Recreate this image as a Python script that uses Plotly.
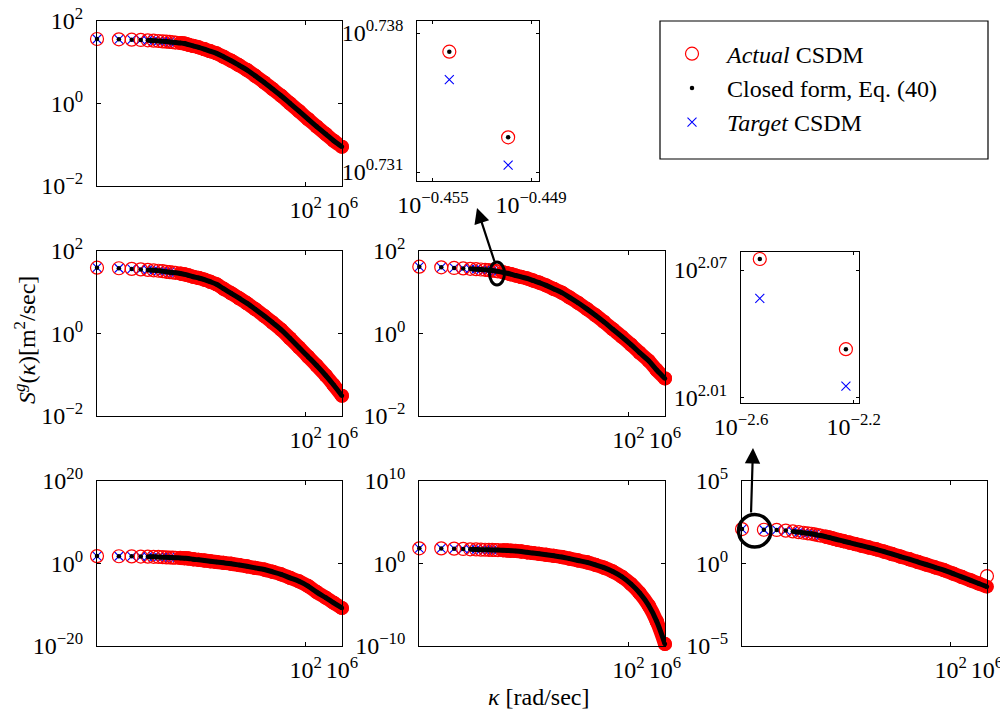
import numpy as np
import plotly.graph_objects as go

# page body has an 8px default margin: the figure is shifted by OFF and made smaller
OFF = 8
W, H = 1008 - OFF, 715 - OFF

# ---------------- data ----------------
# wavenumber sample index k (kappa = k * dkappa)
k_index = [1, 2, 3, 4, 5, 6, 7, 8, 9, 10, 11, 12, 14, 16, 18, 21, 25, 30, 36, 44, 55,
           70, 90, 115, 150, 200, 260, 340, 450, 600, 800, 1050, 1400, 1800, 2340]
dkappa = 10 ** -0.87

# log10 of the spectra, one list per panel (closed form / target identical on this scale)
logS_A = [1.557, 1.549, 1.541, 1.534, 1.525, 1.516, 1.509, 1.50, 1.494, 1.486, 1.478, 1.471,
          1.46, 1.447, 1.42, 1.39, 1.355, 1.31, 1.262, 1.21, 1.126, 1.032, 0.92, 0.81, 0.665,
          0.505, 0.346, 0.185, 0.0, -0.188, -0.382, -0.561, -0.744, -0.905, -1.05]
logS_B = [1.589, 1.575, 1.56, 1.548, 1.535, 1.525, 1.515, 1.505, 1.49, 1.48, 1.472, 1.465,
          1.447, 1.428, 1.405, 1.37, 1.34, 1.30, 1.25, 1.187, 1.08, 0.97, 0.85, 0.73, 0.585,
          0.42, 0.26, 0.09, -0.12, -0.34, -0.565, -0.78, -1.02, -1.25, -1.51]
logS_C = [1.613, 1.597, 1.582, 1.571, 1.562, 1.552, 1.545, 1.538, 1.53, 1.52, 1.51, 1.50,
          1.478, 1.455, 1.433, 1.40, 1.365, 1.33, 1.28, 1.228, 1.16, 1.075, 0.985, 0.87, 0.74,
          0.587, 0.44, 0.279, 0.10, -0.082, -0.273, -0.468, -0.665, -0.887, -1.09]
logS_D = [1.75, 1.72, 1.69, 1.65, 1.62, 1.59, 1.55, 1.50, 1.45, 1.42, 1.39, 1.36, 1.31, 1.25,
          1.19, 1.0, 0.85, 0.69, 0.51, 0.33, 0.12, -0.1, -0.4, -0.72, -1.1, -1.5, -2.05, -2.66,
          -3.5, -4.35, -5.5, -6.95, -8.3, -9.55, -10.8]
logS_E = [1.82, 1.81, 1.78, 1.74, 1.70, 1.68, 1.66, 1.645, 1.635, 1.62, 1.615, 1.605, 1.585,
          1.56, 1.535, 1.50, 1.44, 1.335, 1.25, 1.15, 1.04, 0.91, 0.77, 0.57, 0.35, 0.12,
          -0.18, -0.52, -0.98, -1.62, -2.5, -3.58, -5.1, -7.0, -9.75]
logS_F = [2.075, 2.033, 2.02, 1.98, 1.93, 1.89, 1.85, 1.815, 1.79, 1.75, 1.71, 1.68, 1.62,
          1.56, 1.50, 1.42, 1.34, 1.255, 1.165, 1.07, 0.965, 0.85, 0.71, 0.57, 0.41, 0.25,
          0.09, -0.07, -0.24, -0.41, -0.62, -0.82, -1.03, -1.22, -1.41]
logS_F_actual = [2.075, 2.033, 2.02, 1.98, 1.93, 1.89, 1.85, 1.815, 1.79, 1.75, 1.71, 1.68,
                 1.62, 1.56, 1.50, 1.42, 1.34, 1.255, 1.165, 1.07, 0.965, 0.85, 0.71, 0.57,
                 0.41, 0.25, 0.09, -0.07, -0.24, -0.41, -0.62, -0.82, -1.03, -1.22, -0.77]

# zoom insets (log10 values)
inset1_logk = [-0.4540, -0.4504]
inset1_actual = [0.73706, 0.73275]
inset1_closed = [0.73706, 0.73275]
inset1_target = [0.73565, 0.73135]
inset2_logk = [-2.5335, -2.2275]
inset2_actual = [2.0752, 2.0327]
inset2_closed = [2.0752, 2.0327]
inset2_target = [2.0566, 2.0153]

x_tick_labels = ["10<sup>2</sup>", "10<sup>6</sup>"]
legend_names = ["<i>Actual</i> CSDM", "Closed form, Eq. (40)", "<i>Target</i> CSDM"]

# ---------------- figure ----------------
FONT = "Liberation Serif"
FS = 24

kappa = np.array(k_index, dtype=float) * dkappa
BAND_START = 12   # index where the markers merge into a solid band
LINE_START = 4


def px(x):
    return (x - OFF) / W


def py(y):
    return 1 - (y - OFF) / H


def pw(e):
    s = f"{e:g}".replace("-", "\u2212")
    return f"10<sup>{s}</sup>"


fig = go.Figure()

panels = [
    dict(s=logS_A, a=logS_A, dx=(97, 342), dy=(20.7, 186), yr=(-2, 2)),
    dict(s=logS_B, a=logS_B, dx=(97, 342), dy=(250.7, 416), yr=(-2, 2)),
    dict(s=logS_C, a=logS_C, dx=(419.3, 665), dy=(250.7, 416), yr=(-2, 2)),
    dict(s=logS_D, a=logS_D, dx=(97, 342), dy=(480.7, 646), yr=(-20, 20)),
    dict(s=logS_E, a=logS_E, dx=(419.3, 665), dy=(480.7, 646), yr=(-10, 10)),
    dict(s=logS_F, a=logS_F_actual, dx=(742, 987), dy=(480.7, 646), yr=(-5, 5)),
]

axis_common = dict(
    showline=True, linecolor="black", linewidth=1.2, mirror="ticks",
    ticks="inside", ticklen=4, tickcolor="black", tickwidth=1,
    showgrid=False, zeroline=False, tickangle=0, automargin=False,
    tickfont=dict(family=FONT, size=FS, color="black"),
)

xr = (np.log10(kappa[0]), np.log10(kappa[-1]) + 0.0005)

for i, p in enumerate(panels, start=1):
    xa = "x" if i == 1 else f"x{i}"
    ya = "y" if i == 1 else f"y{i}"
    S = 10 ** np.array(p["s"])
    A = 10 ** np.array(p["a"])
    first = i == 1
    # target (blue x) at bottom
    fig.add_trace(go.Scatter(x=kappa, y=S, mode="markers", xaxis=xa, yaxis=ya,
                             marker=dict(symbol="x-thin", size=9, color="blue",
                                         line=dict(color="blue", width=1.1)),
                             name=legend_names[2], showlegend=first, legendrank=3,
                             cliponaxis=False))
    # red band of overlapping circles
    fig.add_trace(go.Scatter(x=kappa[BAND_START:], y=S[BAND_START:], mode="lines+markers",
                             xaxis=xa, yaxis=ya,
                             line=dict(color="red", width=14, shape="spline"),
                             marker=dict(color="red", size=14),
                             showlegend=False, hoverinfo="skip", cliponaxis=False))
    fig.add_trace(go.Scatter(x=kappa, y=A, mode="markers", xaxis=xa, yaxis=ya,
                             marker=dict(symbol="circle-open", size=13, color="red",
                                         line=dict(width=1.2)),
                             name=legend_names[0], showlegend=first, legendrank=1,
                             cliponaxis=False))
    # closed form: black
    fig.add_trace(go.Scatter(x=kappa[LINE_START:], y=S[LINE_START:], mode="lines",
                             xaxis=xa, yaxis=ya,
                             line=dict(color="black", width=5, shape="spline"),
                             showlegend=False, hoverinfo="skip", cliponaxis=False))
    fig.add_trace(go.Scatter(x=kappa, y=S, mode="markers", xaxis=xa, yaxis=ya,
                             marker=dict(symbol="circle", size=4.5, color="black"),
                             name=legend_names[1], showlegend=first, legendrank=2,
                             cliponaxis=False))
    yr = p["yr"]
    fig.layout[("xaxis" if i == 1 else f"xaxis{i}")] = dict(
        axis_common, type="log", domain=[px(p["dx"][0]), px(p["dx"][1])],
        anchor=ya, range=list(xr),
        tickvals=[100, kappa[-1]], ticktext=x_tick_labels, ticklabelstandoff=2)
    fig.layout[("yaxis" if i == 1 else f"yaxis{i}")] = dict(
        axis_common, type="log", domain=[py(p["dy"][1]), py(p["dy"][0])],
        anchor=xa, range=[yr[0], yr[1]],
        tickvals=[10.0 ** yr[0], 1.0, 10.0 ** yr[1]],
        ticktext=[pw(yr[0]), pw(0), pw(yr[1])], ticklabelstandoff=8)

# insets
insets = [
    dict(lk=inset1_logk, a=inset1_actual, c=inset1_closed, t=inset1_target,
         dx=(417.3, 539), dy=(20.7, 181), xr=(-0.45596, -0.44851), yr=(0.73055, 0.73862),
         xt=[-0.455, -0.449], yt=[0.731, 0.738]),
    dict(lk=inset2_logk, a=inset2_actual, c=inset2_closed, t=inset2_target,
         dx=(741, 859), dy=(252, 403.3), xr=(-2.6003, -2.181), yr=(2.0072, 2.0785),
         xt=[-2.6, -2.2], yt=[2.01, 2.07]),
]
for j, q in enumerate(insets, start=7):
    xa, ya = f"x{j}", f"y{j}"
    kx = 10 ** np.array(q["lk"])
    fig.add_trace(go.Scatter(x=kx, y=10 ** np.array(q["t"]), mode="markers", xaxis=xa, yaxis=ya,
                             marker=dict(symbol="x-thin", size=9, color="blue",
                                         line=dict(color="blue", width=1.1)),
                             showlegend=False, cliponaxis=False))
    fig.add_trace(go.Scatter(x=kx, y=10 ** np.array(q["a"]), mode="markers", xaxis=xa, yaxis=ya,
                             marker=dict(symbol="circle-open", size=13, color="red",
                                         line=dict(width=1.2)),
                             showlegend=False, cliponaxis=False))
    fig.add_trace(go.Scatter(x=kx, y=10 ** np.array(q["c"]), mode="markers", xaxis=xa, yaxis=ya,
                             marker=dict(symbol="circle", size=4.5, color="black"),
                             showlegend=False, cliponaxis=False))
    fig.layout[f"xaxis{j}"] = dict(
        axis_common, type="log", domain=[px(q["dx"][0]), px(q["dx"][1])], anchor=ya,
        range=list(q["xr"]), tickvals=[10 ** v for v in q["xt"]],
        ticktext=[pw(v) for v in q["xt"]], ticklen=3, ticklabelstandoff=2)
    fig.layout[f"yaxis{j}"] = dict(
        axis_common, type="log", domain=[py(q["dy"][1]), py(q["dy"][0])], anchor=xa,
        range=list(q["yr"]), tickvals=[10 ** v for v in q["yt"]],
        ticktext=[pw(v) for v in q["yt"]], ticklen=3, ticklabelstandoff=8)

shapes = [
    # legend frame
    dict(type="rect", xref="paper", yref="paper", x0=px(660), x1=px(988), y0=py(159), y1=py(21),
         line=dict(color="black", width=1.2), fillcolor="white", layer="below"),
    # highlight ellipse in middle panel
    dict(type="circle", xref="paper", yref="paper", x0=px(489.5), x1=px(504.5),
         y0=py(285), y1=py(262), line=dict(color="black", width=3)),
    # highlight circle in bottom-right panel
    dict(type="circle", xref="paper", yref="paper", x0=px(738.5), x1=px(771),
         y0=py(547), y1=py(514.5), line=dict(color="black", width=3.5)),
]

annotations = [
    dict(x=px(477), y=py(208), xref="paper", yref="paper", ax=18, ay=55, text="",
         showarrow=True, arrowhead=2, arrowsize=1.4, arrowwidth=2.2, arrowcolor="black",
         standoff=0, startstandoff=0),
    dict(x=px(753), y=py(448), xref="paper", yref="paper", ax=-2, ay=66, text="",
         showarrow=True, arrowhead=2, arrowsize=1.4, arrowwidth=2.2, arrowcolor="black",
         standoff=0, startstandoff=0),
    dict(x=px(25), y=py(340), xref="paper", yref="paper", textangle=-90, showarrow=False,
         xanchor="center", yanchor="middle",
         text="<i>S<sup>g</sup></i>(<i>κ</i>)[m<sup>2</sup>/sec]",
         font=dict(family=FONT, size=24, color="black")),
    dict(x=px(538), y=py(697), xref="paper", yref="paper", showarrow=False,
         xanchor="center", yanchor="middle",
         text="<i>κ</i> [rad/sec]", font=dict(family=FONT, size=FS, color="black")),
]

fig.update_layout(
    width=W, height=H, margin=dict(l=0, r=0, t=0, b=0, autoexpand=False),
    paper_bgcolor="white", plot_bgcolor="rgba(0,0,0,0)",
    shapes=shapes, annotations=annotations,
    showlegend=True,
    legend=dict(x=px(657), y=py(31.6), xanchor="left", yanchor="top",
                bgcolor="rgba(0,0,0,0)", borderwidth=0, itemwidth=60,
                tracegroupgap=4,
                font=dict(family=FONT, size=24, color="black")),
)

fig.write_html("out.html")
